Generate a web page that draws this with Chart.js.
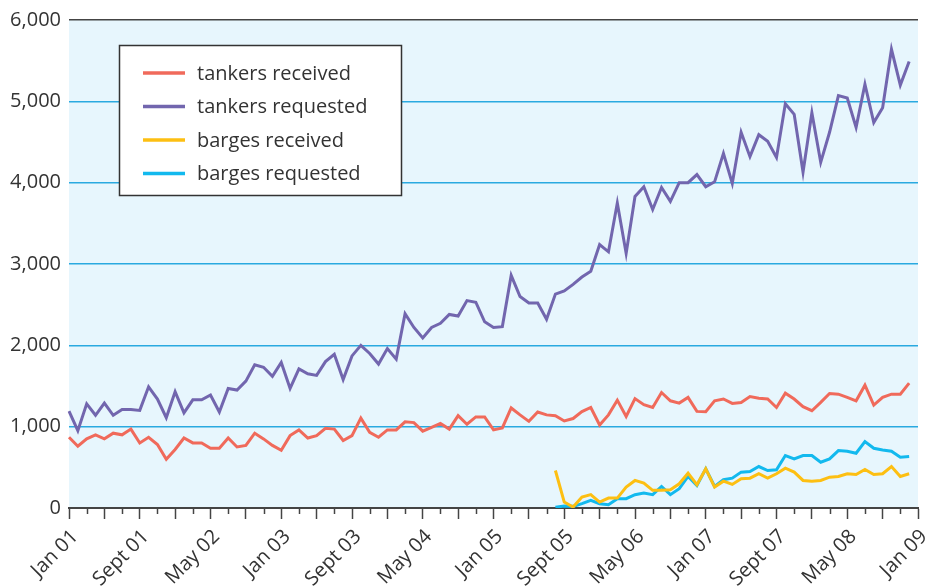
<!DOCTYPE html>
<html>
<head>
<meta charset="utf-8">
<script src="https://cdn.jsdelivr.net/npm/chart.js@4"></script>
<style>
  html, body { margin: 0; padding: 0; background: #fff; }
  #wrap { width: 926px; height: 587px; }
</style>
</head>
<body>
<div id="wrap"><canvas id="chart" width="926" height="587"></canvas></div>
<script>
// month labels Jan 01 .. Jan 09
var monthNames = ['Jan', 'Feb', 'Mar', 'Apr', 'May', 'June', 'July', 'Aug', 'Sept', 'Oct', 'Nov', 'Dec'];
var years = ['01', '02', '03', '04', '05', '06', '07', '08', '09'];
var months = [];
years.forEach(function (yr, k) {
    monthNames.forEach(function (m, j) {
        if (k < years.length - 1 || j === 0) months.push(m + ' ' + yr);
    });
});

var tankersReceived = [
    870, 760, 850, 900, 850, 920, 900, 970, 800, 870, 780, 600,
    720, 860, 800, 800, 735, 735, 860, 750, 770, 920, 850, 770,
    710, 890, 960, 860, 890, 980, 970, 830, 890, 1105, 930, 870,
    960, 960, 1060, 1050, 945, 990, 1040, 970, 1135, 1030, 1120, 1120,
    960, 985, 1230, 1145, 1065, 1180, 1145, 1135, 1070, 1100, 1185, 1236,
    1020, 1145, 1326, 1125, 1345, 1270, 1236, 1420, 1318, 1290, 1360, 1188,
    1184, 1318, 1340, 1286, 1298, 1370, 1350, 1340, 1236, 1412, 1340, 1245,
    1196, 1298, 1408, 1400, 1360, 1318, 1510, 1265, 1360, 1400, 1400, 1535
];
var tankersRequested = [
    1190, 950, 1280, 1140, 1290, 1140, 1210, 1210, 1200, 1490, 1340, 1110,
    1430, 1170, 1330, 1330, 1390, 1180, 1470, 1450, 1560, 1760, 1730, 1620,
    1790, 1470, 1710, 1650, 1630, 1800, 1890, 1580, 1870, 2000, 1900, 1770,
    1960, 1830, 2390, 2220, 2090, 2220, 2270, 2380, 2360, 2550, 2530, 2290,
    2220, 2230, 2860, 2600, 2520, 2520, 2320, 2630, 2670, 2750, 2840, 2910,
    3240, 3150, 3750, 3130, 3830, 3950, 3670, 3940, 3770, 4000, 4000, 4100,
    3950, 4010, 4360, 3990, 4620, 4320, 4590, 4510, 4310, 4970, 4840, 4130,
    4860, 4250, 4620, 5070, 5040, 4680, 5210, 4740, 4920, 5640, 5200, 5490
];
// barge series start in Aug 05 (index 55)
var bargeStart = 55;
var bargesReceived = [
    461, 73, 12, 135, 164, 73, 122, 122, 257, 339, 306, 217, 217, 225,
    298, 428, 286, 482, 257, 330, 290, 359, 367, 421, 367, 421, 490, 441,
    339, 330, 339, 379, 388, 421, 412, 474, 412, 421, 510, 388, 421
];
var bargesRequested = [
    10, 24, 20, 53, 94, 53, 41, 115, 115, 164, 184, 164, 265, 164,
    237, 388, 278, 482, 265, 347, 367, 441, 449, 510, 461, 470, 645, 604,
    645, 645, 563, 604, 706, 698, 673, 816, 734, 714, 698, 624, 633
];
var yTicks = [0, 1000, 2000, 3000, 4000, 5000, 6000];

function pad(arr) {
    var out = [];
    for (var i = 0; i < bargeStart; i++) out.push(null);
    return out.concat(arr);
}

var FONT = '"Open Sans", "Noto Sans", sans-serif';
var TEXT = '#333333';

var plotBg = {
    id: 'plotBg',
    beforeDraw: function (chart) {
        var a = chart.chartArea, c = chart.ctx;
        c.save();
        c.fillStyle = '#e7f6fd';
        c.fillRect(a.left, a.top, a.right - a.left, a.bottom - a.top);
        c.restore();
    }
};

// short ticks between the long ones
var minorTicks = {
    id: 'minorTicks',
    afterDraw: function (chart) {
        var xs = chart.scales.x, c = chart.ctx, b = chart.chartArea.bottom;
        c.save();
        c.strokeStyle = '#444';
        c.lineWidth = 1.5;
        for (var i = 2; i < months.length; i += 4) {
            var x = Math.round(xs.getPixelForTick(i)) + 0.5;
            c.beginPath();
            c.moveTo(x, b);
            c.lineTo(x, b + 6);
            c.stroke();
        }
        c.restore();
    }
};

var boxLegend = {
    id: 'boxLegend',
    afterDraw: function (chart) {
        var c = chart.ctx;
        c.save();
        c.fillStyle = '#ffffff';
        c.fillRect(119.5, 45.5, 282, 150);
        c.strokeStyle = '#333';
        c.lineWidth = 1.5;
        c.strokeRect(119.5, 45.5, 282, 150);
        var rows = [73, 106.5, 140, 173.5];
        c.font = '20px ' + FONT;
        c.textBaseline = 'middle';
        chart.data.datasets.forEach(function (ds, k) {
            c.strokeStyle = ds.borderColor;
            c.lineWidth = 3.5;
            c.beginPath();
            c.moveTo(143, rows[k]);
            c.lineTo(185, rows[k]);
            c.stroke();
            c.fillStyle = TEXT;
            c.fillText(ds.label, 197, rows[k] + 1);
        });
        c.restore();
    }
};

new Chart(document.getElementById('chart'), {
    type: 'line',
    data: {
        labels: months,
        datasets: [
            { label: 'tankers received', data: tankersReceived, borderColor: '#f06a5b' },
            { label: 'tankers requested', data: tankersRequested, borderColor: '#7266ae' },
            { label: 'barges received', data: pad(bargesReceived), borderColor: '#fdbf12' },
            { label: 'barges requested', data: pad(bargesRequested), borderColor: '#12b9ee' }
        ]
    },
    options: {
        responsive: false,
        devicePixelRatio: 1,
        animation: false,
        layout: { padding: { top: 17, right: 8, left: 0, bottom: 0 } },
        elements: {
            line: { borderWidth: 3, tension: 0, fill: false },
            point: { radius: 0 }
        },
        plugins: {
            legend: { display: false },
            tooltip: { enabled: false }
        },
        scales: {
            x: {
                type: 'category',
                offset: false,
                grid: {
                    drawOnChartArea: false,
                    drawTicks: true,
                    tickLength: 11,
                    tickWidth: 1.5,
                    tickColor: function (ctx) { return ctx.index % 4 === 0 ? '#444' : 'rgba(0,0,0,0)'; }
                },
                border: { display: true, color: '#444', width: 2 },
                ticks: {
                    autoSkip: false,
                    minRotation: 45,
                    maxRotation: 45,
                    padding: 6,
                    labelOffset: 6,
                    color: TEXT,
                    font: { family: FONT, size: 20 },
                    callback: function (v, i) { return i % 8 === 0 ? this.getLabelForValue(v) : ''; }
                },
                afterFit: function (s) {
                    s.height = 79;
                    s.paddingLeft = 0;
                    s.paddingRight = 0;
                }
            },
            y: {
                min: 0,
                max: 6000,
                afterBuildTicks: function (s) { s.ticks = yTicks.map(function (v) { return { value: v }; }); },
                grid: {
                    drawTicks: false,
                    lineWidth: 1.5,
                    color: function (ctx) {
                        if (ctx.tick.value === 6000) return '#444';
                        if (ctx.tick.value === 0) return 'rgba(0,0,0,0)';
                        return '#2aa9e0';
                    }
                },
                border: { display: false },
                ticks: {
                    padding: 8,
                    color: TEXT,
                    font: { family: FONT, size: 20 },
                    callback: function (v) { return v.toLocaleString('en-US'); }
                },
                afterFit: function (s) { s.width = 69; }
            }
        }
    },
    plugins: [plotBg, minorTicks, boxLegend]
});
</script>
</body>
</html>
